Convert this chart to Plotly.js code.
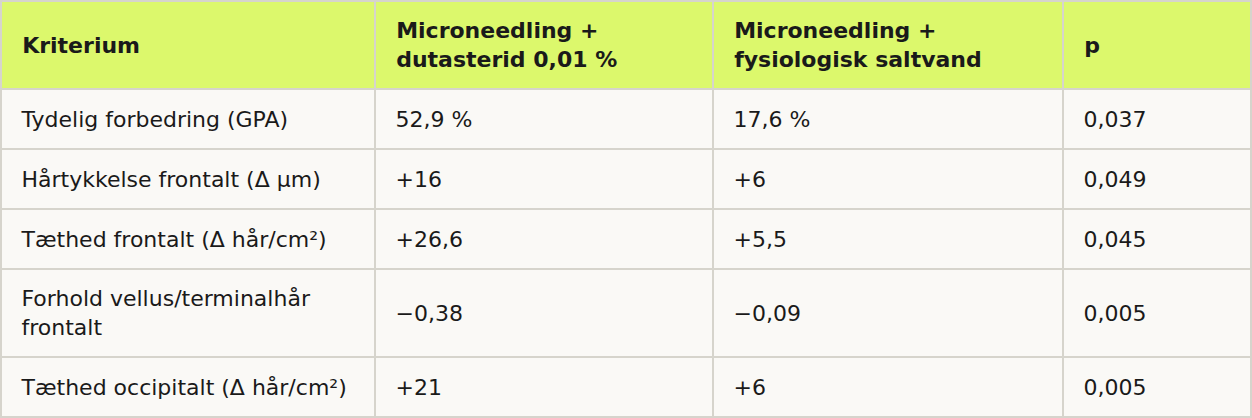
<!DOCTYPE html>
<html>
<head>
<meta charset="utf-8">
<script src="https://cdn.plot.ly/plotly-3.0.1.min.js"></script>
<style>
html,body{margin:0;padding:0;background:#d6d4cc;}
#chart{width:1252px;height:418px;}
</style>
</head>
<body>
<div id="chart"></div>
<script>
var headers = ["Kriterium", "Microneedling +<br>dutasterid 0,01 %", "Microneedling +<br>fysiologisk saltvand", "p"];
var criteria = ["Tydelig forbedring (GPA)", "Hårtykkelse frontalt (Δ µm)", "Tæthed frontalt (Δ hår/cm²)", "Forhold vellus/terminalhår<br>frontalt", "Tæthed occipitalt (Δ hår/cm²)"];
var dutasteride = ["52,9 %", "+16", "+26,6", "−0,38", "+21"];
var saline = ["17,6 %", "+6", "+5,5", "−0,09", "+6"];
var pValues = ["0,037", "0,049", "0,045", "0,005", "0,005"];

var pad = "\u00a0\u2005";
function padAll(arr){ return arr.map(function(s){ return pad + s.replace(/<br>/g, "<br>" + pad); }); }
var columns = [criteria, dutasteride, saline, pValues];
function rows(a, b){ return columns.map(function(col){ return padAll(col.slice(a, b)); }); }

var borderColor = "#d6d4cc";
var cellFill = "#faf9f6";
var textColor = "#1a1a1a";
var widths = [374, 338, 350, 188];
var totalH = 416;
var headH = 88, rowH = 60, tallH = 88;
var topBlock = headH + 3 * rowH;

var traceTop = {
  type: "table",
  domain: {x: [0, 1], y: [1 - topBlock / totalH, 1]},
  columnwidth: widths,
  header: {
    values: padAll(headers),
    align: "left",
    height: headH,
    fill: {color: "#dcf86c"},
    line: {color: borderColor, width: 2},
    font: {family: "DejaVu Sans", size: 22, color: textColor, weight: "bold"}
  },
  cells: {
    values: rows(0, 3),
    align: "left",
    height: rowH,
    fill: {color: cellFill},
    line: {color: borderColor, width: 2},
    font: {family: "DejaVu Sans", size: 22, color: textColor}
  }
};
var traceBottom = {
  type: "table",
  domain: {x: [0, 1], y: [0, (tallH + rowH) / totalH]},
  columnwidth: widths,
  header: {
    values: rows(3, 4).map(function(c){ return c[0]; }),
    align: "left",
    height: tallH,
    fill: {color: cellFill},
    line: {color: borderColor, width: 2},
    font: {family: "DejaVu Sans", size: 22, color: textColor}
  },
  cells: {
    values: rows(4, 5),
    align: "left",
    height: rowH,
    fill: {color: cellFill},
    line: {color: borderColor, width: 2},
    font: {family: "DejaVu Sans", size: 22, color: textColor}
  }
};
var layout = {
  width: 1252, height: 418,
  margin: {l: 1, r: 1, t: 1, b: 1},
  paper_bgcolor: borderColor
};

function centerTexts(){
  var cells = document.querySelectorAll("#chart .column-cell");
  cells.forEach(function(cell){
    var rect = cell.querySelector(".cell-rect");
    var txt = cell.querySelector(".cell-text");
    if(!rect || !txt) return;
    var rb = rect.getBoundingClientRect();
    var tb = txt.getBoundingClientRect();
    if(!rb.height || !tb.height) return;
    if(txt.__orig === undefined){ txt.__orig = txt.getAttribute("transform") || ""; txt.__dy = 0; }
    var desired = (rb.height - tb.height) / 2;
    var current = tb.top - rb.top;
    txt.__dy = txt.__dy + (desired - current);
    txt.setAttribute("transform", (txt.__orig + " translate(0," + txt.__dy.toFixed(2) + ")").trim());
  });
}

Plotly.newPlot("chart", [traceTop, traceBottom], layout, {displayModeBar: false, staticPlot: true}).then(function(){
  centerTexts();
  setTimeout(centerTexts, 50);
  setTimeout(centerTexts, 250);
  setTimeout(centerTexts, 600);
});
</script>
</body>
</html>
